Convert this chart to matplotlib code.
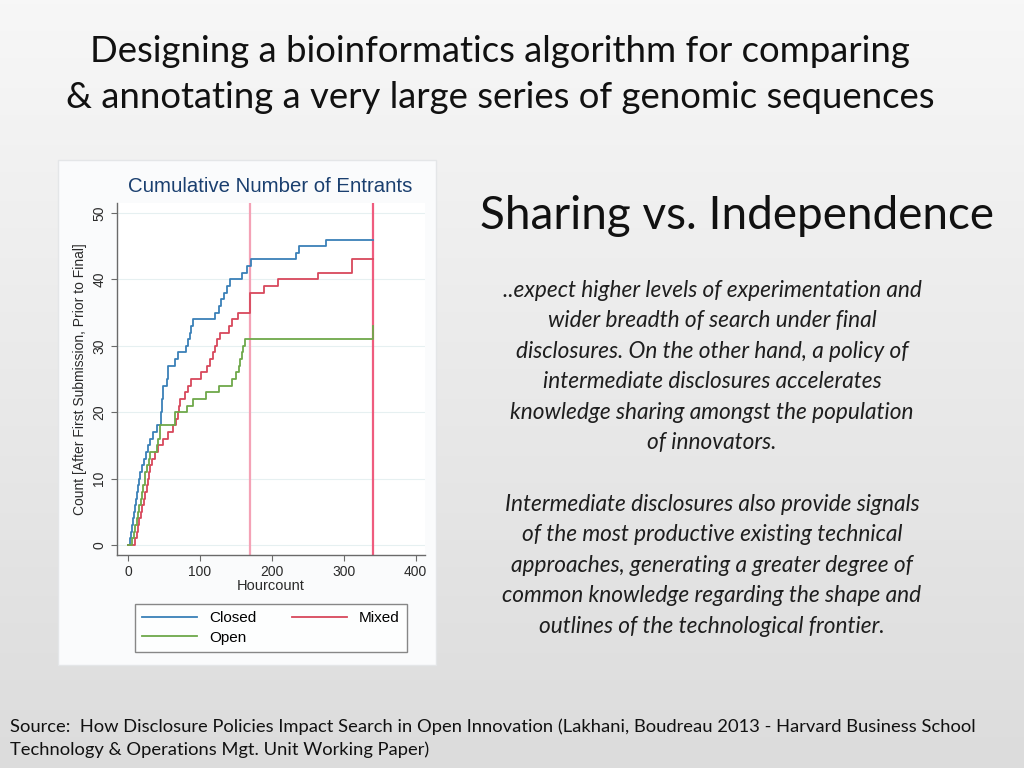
import matplotlib
matplotlib.use("Agg")
import matplotlib.pyplot as plt
import numpy as np
from matplotlib.patches import Rectangle

# step data: (hour, cumulative count)
closed_hours = [0, 3, 4, 5, 7, 8, 10, 11, 13, 14, 15, 17, 19, 22, 25, 28, 31, 35, 40,
                46, 46.5, 47, 47.5, 48, 54, 55, 56, 66, 70, 80, 84, 86, 88, 91,
                121, 126, 130, 134, 138, 142, 158, 166, 171, 234, 238, 276, 340]
closed_counts = [0, 1, 2, 3, 4, 5, 6, 7, 8, 9, 10, 11, 12, 13, 14, 15, 16, 17, 18,
                 19, 20, 21, 22, 24, 25, 26, 27, 28, 29, 30, 31, 32, 33, 34,
                 35, 36, 37, 38, 39, 40, 41, 42, 43, 44, 45, 46, 46]

mixed_hours = [0, 10, 12, 14, 16, 18, 20, 22, 24, 26, 28, 29, 31, 33, 37, 42, 48, 56,
               63, 67, 69, 71, 73, 79, 84, 88, 102, 110, 114, 118, 121, 124, 128,
               140, 144, 153, 170, 189, 209, 264, 312, 340]
mixed_counts = [0, 1, 2, 3, 4, 5, 6, 7, 8, 9, 10, 11, 12, 13, 14, 15, 16, 17,
                18, 19, 20, 21, 22, 23, 24, 25, 26, 27, 28, 29, 30, 31, 32,
                33, 34, 35, 38, 39, 40, 41, 43, 43]

open_hours = [0, 6, 8, 10, 12, 14, 16, 18, 20, 21, 23, 24, 26, 29, 31, 40, 42, 44, 45,
              65, 66, 82, 91, 109, 126, 144, 150, 154, 156, 158, 160, 163, 340, 341]
open_counts = [0, 1, 2, 3, 4, 5, 6, 7, 8, 9, 10, 11, 12, 13, 14, 15, 16, 17, 18,
               19, 20, 21, 22, 23, 24, 25, 26, 27, 28, 29, 30, 31, 33, 33]

phase_lines = [170, 340]
x_ticks = [0, 100, 200, 300, 400]
y_ticks = [0, 10, 20, 30, 40, 50]

body_lines = [
    "..expect higher levels of experimentation and",
    "wider breadth of search under final",
    "disclosures. On the other hand, a policy of",
    "intermediate disclosures accelerates",
    "knowledge sharing amongst the population",
    "of innovators.",
    "",
    "Intermediate disclosures also provide signals",
    "of the most productive existing technical",
    "approaches, generating a greater degree of",
    "common knowledge regarding the shape and",
    "outlines of the technological frontier.",
]

W, H = 1024, 768
fig = plt.figure(figsize=(W / 100, H / 100), dpi=100)

# slide background gradient
bg = fig.add_axes([0, 0, 1, 1], zorder=-10)
grad = np.linspace(0, 1, 256).reshape(-1, 1)
bg.imshow(grad, aspect="auto", cmap=matplotlib.colors.LinearSegmentedColormap.from_list(
    "slide", ["#f7f7f7", "#dcdcdc"]), extent=[0, 1, 0, 1])
bg.axis("off")

# chart panel (the pasted stata graph)
fig.patches.append(Rectangle((58 / W, 1 - 665 / H), 378 / W, 505 / H,
                             transform=fig.transFigure, facecolor="#fafbfc",
                             edgecolor="#e4e6e8", lw=1, zorder=-5))

ax = fig.add_axes([116.7 / W, 1 - 555 / H, (425 - 116.7) / W, (555 - 203) / H])
ax.set_facecolor("white")
ax.step(closed_hours, closed_counts, where="post", color="#3a80b8", lw=1.3, label="Closed")
ax.step(mixed_hours, mixed_counts, where="post", color="#d8485c", lw=1.3, label="Mixed")
ax.step(open_hours, open_counts, where="post", color="#6ea84a", lw=1.3, label="Open")
ax.axvline(phase_lines[0], color="#f4a2b6", lw=1.6, zorder=1.5)
ax.axvline(phase_lines[1], color="#ef5c7e", lw=1.6, zorder=1.5)

ax.set_xlim(-15.7, 413)
ax.set_ylim(-1.5, 51.5)
ax.set_xticks(x_ticks)
ax.set_yticks(y_ticks)
ax.grid(axis="y", color="#e6f0f1", lw=0.8)
ax.set_axisbelow(True)
for s in ["top", "right"]:
    ax.spines[s].set_visible(False)
for s in ["left", "bottom"]:
    ax.spines[s].set_color("#6a6a6a")
    ax.spines[s].set_linewidth(1.0)
ax.tick_params(colors="#6a6a6a", labelcolor="#2a2a2a", labelsize=10, length=4)
plt.setp(ax.get_yticklabels(), rotation=90, va="center")
ax.set_xlabel("Hourcount", fontsize=10.5, color="#2a2a2a", labelpad=0, family="Liberation Sans")
ax.set_ylabel("Count [After First Submission, Prior to Final]", fontsize=10,
              color="#2a2a2a", labelpad=4, family="Liberation Sans")
for lab in ax.get_xticklabels() + ax.get_yticklabels():
    lab.set_family("Liberation Sans")

fig.text(270 / W, 1 - 187 / H, "Cumulative Number of Entrants", ha="center", va="center",
         fontsize=14.7, color="#1a3f6f", family="Liberation Sans")

leg = ax.legend(handles=[ax.lines[0], ax.lines[2], ax.lines[1]], ncol=2,
                loc="center", bbox_to_anchor=(271 / W, 1 - 628 / H),
                bbox_transform=fig.transFigure, frameon=True,
                fancybox=False, edgecolor="#6a6a6a", handlelength=3.6,
                handletextpad=0.8, columnspacing=2.3, borderpad=0.45, labelspacing=0.35,
                prop={"family": "Liberation Sans", "size": 11})
leg.get_frame().set_linewidth(1.0)

# slide texts
fig.text(500 / W, 1 - 52 / H, "Designing a bioinformatics algorithm for comparing",
         ha="center", va="center", fontsize=26.3, family="Lato", color="#111111")
fig.text(500 / W, 1 - 98 / H, "& annotating a very large series of genomic sequences",
         ha="center", va="center", fontsize=26.3, family="Lato", color="#111111")
fig.text(737 / W, 1 - 216 / H, "Sharing vs. Independence", ha="center", va="center",
         fontsize=33, family="Lato", color="#111111")

for i, line in enumerate(body_lines):
    fig.text(712 / W, 1 - (290 + i * 30.6) / H, line, ha="center", va="center",
             fontsize=16.3, family="Lato", style="italic", color="#1e1e1e")

fig.text(10 / W, 1 - 727 / H,
         "Source:  How Disclosure Policies Impact Search in Open Innovation (Lakhani, Boudreau 2013 - Harvard Business School",
         ha="left", va="center", fontsize=13.2, family="Lato", color="#111111")
fig.text(10 / W, 1 - 750 / H, "Technology & Operations Mgt. Unit Working Paper)",
         ha="left", va="center", fontsize=13.2, family="Lato", color="#111111")

fig.savefig("out.png", dpi=100)
